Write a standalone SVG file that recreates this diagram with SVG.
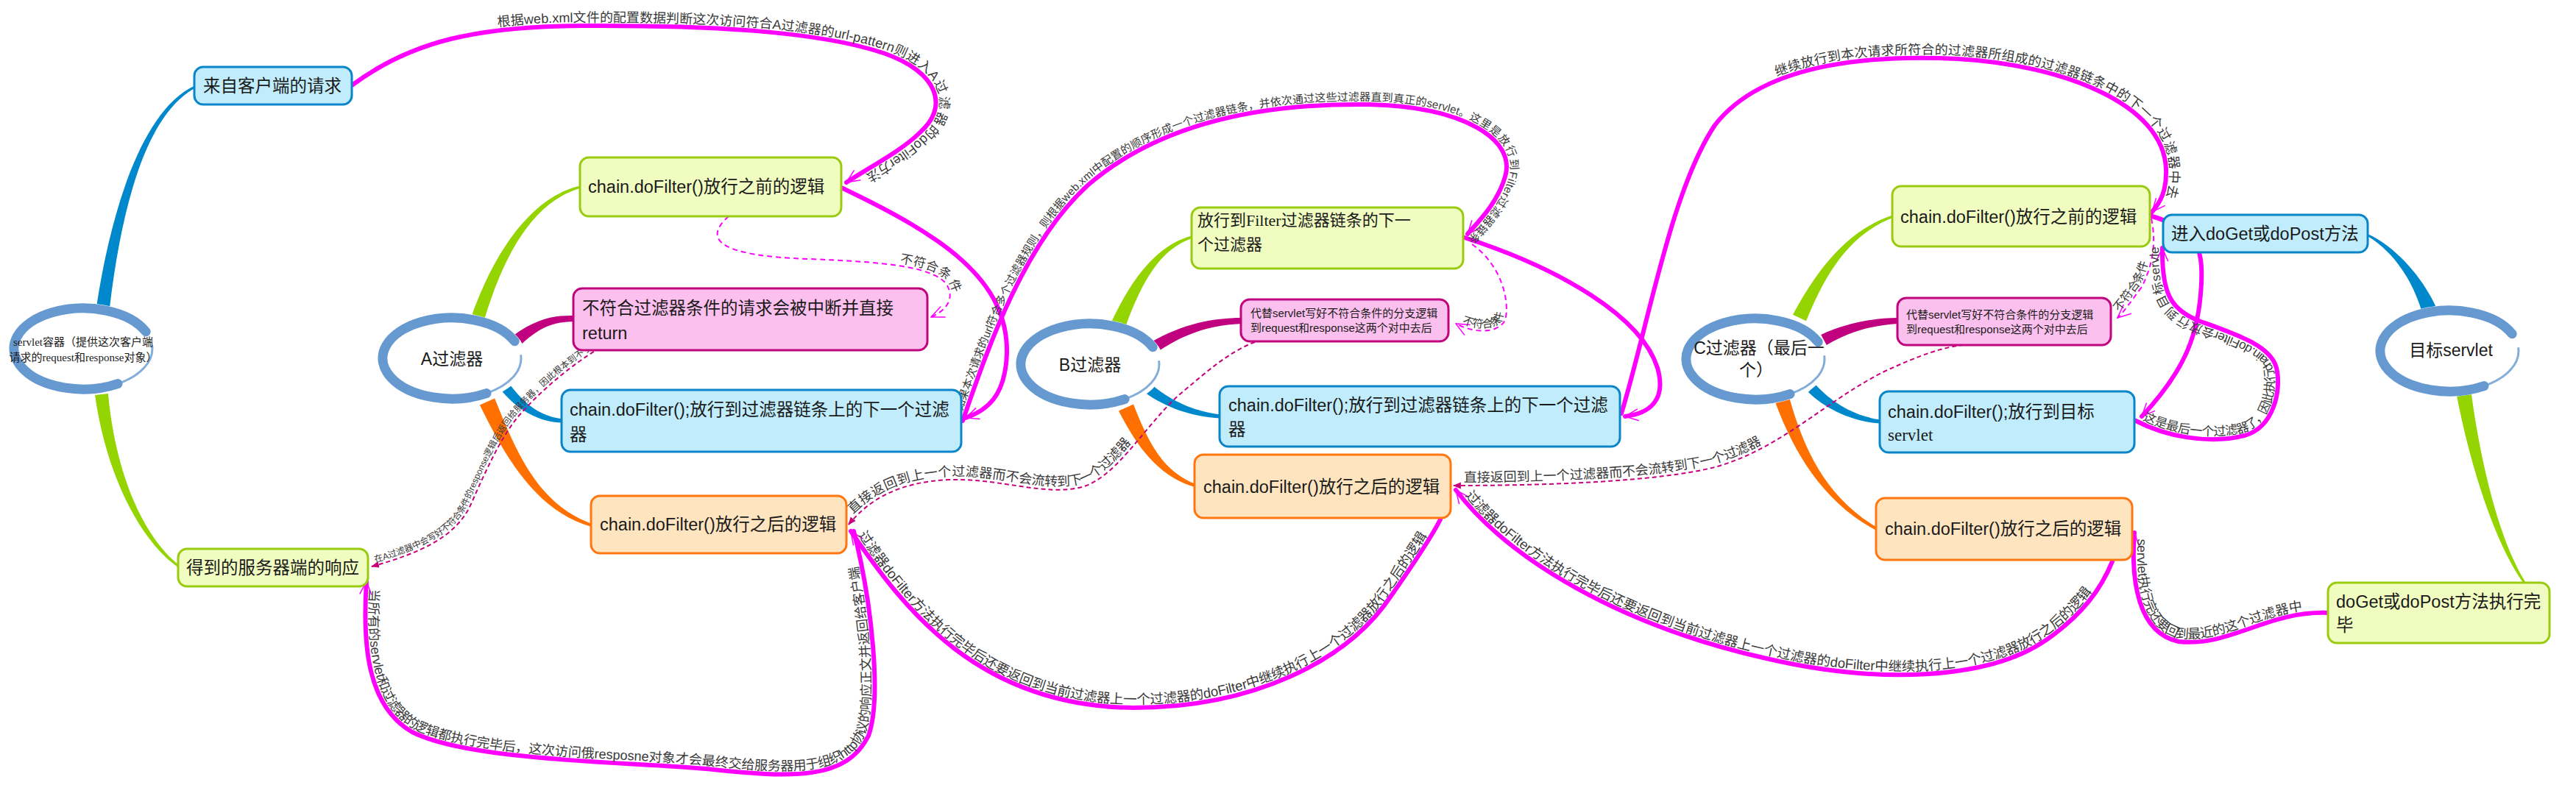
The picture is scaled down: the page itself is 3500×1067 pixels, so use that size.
<svg xmlns="http://www.w3.org/2000/svg" xmlns:xlink="http://www.w3.org/1999/xlink" width="3500" height="1067" viewBox="0 0 3500 1067">
<style>
.lbl{font-family:'Liberation Sans','Noto Sans CJK SC',sans-serif;fill:#3a3a3a;}
.nt{font-family:'Liberation Sans','Noto Sans CJK SC',sans-serif;fill:#1a1a1a;}
.ns{font-family:'Liberation Serif','Noto Sans CJK SC',serif;fill:#1a1a1a;}
.mg{fill:none;stroke:#ff00ff;stroke-width:6;stroke-linecap:round;}
.dl{fill:none;stroke:#ff00ff;stroke-width:2;stroke-dasharray:7 5;}
.dd{fill:none;stroke:#c8007c;stroke-width:2;stroke-dasharray:6 4;}
.bl{fill:#c0ecfc;stroke:#0a86c8;stroke-width:3;}
.yg{fill:#f0fcc0;stroke:#99cc11;stroke-width:3;}
.pk{fill:#fcc0ee;stroke:#c0057f;stroke-width:3;}
.or{fill:#ffe4c0;stroke:#ff7711;stroke-width:3;}
.bB{fill:#0088cc;}
.bG{fill:#94d400;}
.bM{fill:#c0007f;}
.bO{fill:#ff7000;}
</style>
<defs>
<marker id="arr" viewBox="0 0 20 20" refX="19" refY="10" markerWidth="20" markerHeight="20" markerUnits="userSpaceOnUse" orient="auto-start-reverse"><path d="M1,2 L19,10 L1,18" fill="none" stroke="#ff00ff" stroke-width="1.5"/></marker>
<marker id="arrf" viewBox="0 0 10 10" refX="9" refY="5" markerWidth="11" markerHeight="11" markerUnits="userSpaceOnUse" orient="auto-start-reverse"><path d="M0,1 L10,5 L0,9 Z" fill="#c8007c"/></marker>
<g id="ring">
<ellipse rx="101" ry="62" fill="#ffffff"/>
<path d="M85.2,-23.2 A94,55 0 1 0 47,47.6" fill="none" stroke="#6699d0" stroke-width="13" stroke-linecap="round"/>
<path d="M47,47.6 A94,55 0 0 0 93.6,-4.8" fill="none" stroke="#6699d0" stroke-width="3" stroke-opacity="0.8"/>
</g>
<path id="pd2" d="M1978,440 C2000,452 2035,455 2045,435 C2052,410 2040,360 2000,332"/>
<path id="pd3" d="M2877,432 C2885,425 2895,410 2910,390 C2925,360 2930,330 2923,297"/>
</defs>

<g id="connectors">
<g id="branches">
<path class="bB" d="M148.9,419.2 C166.4,270.9 201.5,153.1 265.7,119.3 L264.3,116.7 C198.5,146.9 153.6,269.1 131.1,416.8 Z"/>
<path class="bG" d="M129.1,537 C143.5,640.7 187.9,732.8 242.1,771.2 L243.9,768.8 C192.1,727.2 156.5,639.3 146.9,535 Z"/>
<path class="bG" d="M658.5,432.8 C686.2,342.1 725.8,273.4 789.4,255.5 L788.6,252.5 C724.2,266.6 673.8,337.9 641.5,427.2 Z"/>
<path class="bM" d="M708.1,468.2 C733.8,444.7 750,438 780,437 L780,429 C750,428 726.2,435.3 697.9,455.8 Z"/>
<path class="bB" d="M682.6,532.4 C705.3,558.8 734.7,574 763.8,574.5 L764.2,569.5 C735.3,566 714.7,551.2 693.4,523.6 Z"/>
<path class="bO" d="M651.9,550.5 C687.7,623.3 728.6,694.3 803.4,715.9 L804.6,712.1 C731.4,685.7 702.3,616.7 672.1,541.5 Z"/>
<path class="bG" d="M1529.2,443.9 C1551.5,382.7 1576,338.4 1620.4,323.4 L1619.6,320.6 C1574,331.6 1538.5,377.3 1510.8,436.2 Z"/>
<path class="bM" d="M1572.3,478.7 C1613.2,450.1 1650.1,442 1687.1,440 L1686.9,432 C1649.9,432 1606.8,439.9 1563.7,465.3 Z"/>
<path class="bB" d="M1555.6,533.5 C1581.3,552.7 1619.7,567 1657.8,568.5 L1658.2,563.5 C1620.3,559 1588.8,543.3 1564.4,522.5 Z"/>
<path class="bO" d="M1520,558.5 C1547.7,613.3 1578.5,649.3 1623.4,661.9 L1624.6,658.1 C1581.5,640.7 1562.3,606.7 1540,549.5 Z"/>
<path class="bG" d="M2454,436.3 C2476.3,383 2506.2,321.3 2572.5,295.4 L2571.5,292.6 C2503.8,314.7 2463.7,377 2436,427.7 Z"/>
<path class="bM" d="M2481.8,469.1 C2512.8,450.3 2545.1,442 2579.1,440 L2578.9,432 C2544.9,432 2507.2,439.7 2474.2,454.9 Z"/>
<path class="bB" d="M2456.9,532.9 C2480.7,556.2 2519.7,574 2554.8,575.5 L2555.2,570.5 C2520.3,566 2489.3,547.8 2467.1,523.1 Z"/>
<path class="bO" d="M2412.5,548.1 C2438.4,617.2 2478.1,683.5 2549,720.7 L2551,717.3 C2481.9,676.5 2451.7,612.8 2431.5,541.9 Z"/>
<path class="bB" d="M3309.4,416.5 C3291.6,377.5 3256.7,336.9 3218.7,318.7 L3217.3,321.3 C3253.3,343.1 3278.4,382.5 3290.6,423.5 Z"/>
<path class="bG" d="M3338.1,538.6 C3358.1,641.1 3392.1,742 3428.8,792.8 L3431.2,791.2 C3397.9,738 3371.9,638.9 3357.9,535.4 Z"/>
</g>
<g id="links">
<path id="p1" class="mg" marker-end="url(#arr)" d="M478,116 C560,55 650,36 790,35 C960,34 1110,42 1200,72 C1275,98 1290,145 1250,180 C1225,205 1180,228 1150,248"/>
<path id="p2" class="mg" marker-end="url(#arr)" d="M1143,255 C1280,320 1370,380 1368,480 C1366,540 1340,558 1312,568"/>
<path id="p3" class="mg" marker-end="url(#arr)" d="M1308,572 C1340,480 1390,330 1480,250 C1580,165 1720,140 1860,142 C1990,145 2060,190 2045,240 C2035,275 2010,300 1994,318"/>
<path id="p4" class="mg" marker-end="url(#arr)" d="M1990,323 C2120,365 2230,430 2252,500 C2265,545 2240,562 2208,566"/>
<path id="p5" class="mg" marker-end="url(#arr)" d="M2203,562 C2240,440 2270,260 2330,170 C2400,80 2560,75 2660,80 C2800,88 2940,140 2943,230 C2944,260 2935,275 2924,288"/>
<path id="p6" class="mg" marker-start="url(#arr)" d="M498,790 C492,880 500,960 560,995 C640,1035 850,1035 960,1045 C1080,1058 1150,1060 1180,1000 C1198,950 1185,820 1160,722"/>
<path id="p7" class="mg" marker-start="url(#arr)" d="M1156,722 C1230,830 1330,960 1540,962 C1700,962 1830,900 1890,810 C1925,760 1945,730 1957,706"/>
<path id="p8" class="mg" marker-start="url(#arr)" d="M1978,666 C2050,760 2200,850 2400,895 C2550,930 2700,925 2780,870 C2830,835 2855,800 2870,763"/>
<path id="p9" class="mg" marker-start="url(#arr)" d="M2900,724 C2895,790 2905,860 2960,872 C3030,880 3080,830 3163,833"/>
<path id="p10" class="mg" marker-end="url(#arr)" d="M2902,572 C2940,592 3000,605 3050,592 C3090,580 3100,530 3093,500 C3085,470 3040,455 2990,437 C2950,422 2937,400 2938,337"/>
<path id="p11" class="mg" marker-end="url(#arr)" d="M2921,293 C2985,312 2993,335 2991,385 C2988,450 2972,500 2910,566"/>
<path id="d1" class="dl" marker-end="url(#arr)" d="M990,294 C955,325 975,348 1100,352 C1200,356 1265,362 1285,385 C1297,402 1290,420 1265,431"/>
<path class="dl" marker-end="url(#arr)" d="M2000,332 C2040,360 2052,410 2045,435 C2035,455 2000,452 1978,440"/>
<path class="dl" marker-end="url(#arr)" d="M2923,297 C2930,330 2925,360 2910,390 C2895,410 2885,425 2877,432"/>
<path id="d4" class="dd" marker-start="url(#arrf)" d="M505,770 C570,752 620,730 640,685 C660,640 680,595 705,565 C740,525 780,495 808,477"/>
<path id="d5" class="dd" marker-start="url(#arrf)" d="M1153,713 C1180,680 1220,655 1290,652 C1360,650 1420,675 1470,662 C1520,648 1560,570 1610,530 C1640,505 1670,478 1705,465"/>
<path id="d6" class="dd" marker-start="url(#arrf)" d="M1975,660 C2100,660 2250,655 2330,635 C2420,610 2480,545 2560,505 C2610,482 2640,472 2667,469"/>
</g>
<g id="link-labels">
<text class="lbl" font-size="18" dy="-5"><textPath href="#p1" startOffset="215">根据web.xml文件的配置数据判断这次访问符合A过滤器的url-pattern则进入A过滤器的doFilter方法</textPath></text>
<text class="lbl" font-size="15" dy="-5"><textPath href="#p3" startOffset="12">如果本次请求的url符合多个过滤器规则，则根据web.xml中配置的顺序形成一个过滤器链条，并依次通过这些过滤器直到真正的servlet。这里是放行到Filter过滤器链条的下一个过滤器</textPath></text>
<text class="lbl" font-size="18" dy="-5"><textPath href="#p5" startOffset="520">继续放行到本次请求所符合的过滤器所组成的过滤器链条中的下一个过滤器中去</textPath></text>
<text class="lbl" font-size="18" dy="-5"><textPath href="#p6" startOffset="10">当所有的servlet和过滤器的逻辑都执行完毕后，这次访问俄resposne对象才会最终交给服务器用于组织http协议的响应正文并返回给客户端</textPath></text>
<text class="lbl" font-size="18.5" dy="-5"><textPath href="#p7" startOffset="10">过滤器doFilter方法执行完毕后还要返回到当前过滤器上一个过滤器的doFilter中继续执行上一个过滤器放行之后的逻辑</textPath></text>
<text class="lbl" font-size="18.5" dy="-5"><textPath href="#p8" startOffset="14">过滤器doFilter方法执行完毕后还要返回到当前过滤器上一个过滤器的doFilter中继续执行上一个过滤器放行之后的逻辑</textPath></text>
<text class="lbl" font-size="18" dy="-5"><textPath href="#p9" startOffset="8">servlet执行完还要回到最近的这个过滤器中</textPath></text>
<text class="lbl" font-size="17" dy="-5"><textPath href="#p10" startOffset="8">这是最后一个过滤器了，因此执行chain.doFilter会放行到目标servlet</textPath></text>
<text class="lbl" font-size="17" dy="-4"><textPath href="#d1" startOffset="288">不符合条件</textPath></text>
<text class="lbl" font-size="15" dy="-4"><textPath href="#pd2" startOffset="8">不符合条件</textPath></text>
<text class="lbl" font-size="16" dy="-4"><textPath href="#pd3" startOffset="8">不符合条件</textPath></text>
<text class="lbl" font-size="12" dy="-4"><textPath href="#d4" startOffset="6">在A过滤器中会写好不符合条件的response逻辑后返回给服务器，因此根本到不了目标servlet</textPath></text>
<text class="lbl" font-size="18" dy="-5"><textPath href="#d5" startOffset="14">直接返回到上一个过滤器而不会流转到下一个过滤器</textPath></text>
<text class="lbl" font-size="18" dy="-5"><textPath href="#d6" startOffset="14">直接返回到上一个过滤器而不会流转到下一个过滤器</textPath></text>
</g>
</g>

<g id="nodes">
<g id="n-container"><use href="#ring" x="113" y="474"/>
<text class="ns" font-size="15" text-anchor="middle" x="113" y="470">servlet容器（提供这次客户端</text>
<text class="ns" font-size="15" text-anchor="middle" x="113" y="491">请求的request和response对象）</text></g>
<g id="n-request"><rect class="bl" x="264" y="91" width="214" height="51" rx="12"/><text class="nt" font-size="23.5" x="276" y="125">来自客户端的请求</text></g>
<g id="n-response"><rect class="yg" x="242" y="746" width="258" height="51" rx="12"/><text class="nt" font-size="23.5" x="253" y="780">得到的服务器端的响应</text></g>

<g id="n-filterA"><use href="#ring" x="614" y="487"/><text class="nt" font-size="23" text-anchor="middle" x="614" y="496">A过滤器</text></g>
<g id="n-A-before"><rect class="yg" x="788" y="214" width="355" height="80" rx="12"/><text class="nt" font-size="23.5" x="799" y="262">chain.doFilter()放行之前的逻辑</text></g>
<g id="n-A-reject"><rect class="pk" x="779" y="392" width="481" height="84" rx="12"/><text class="nt" font-size="23.5" x="791" y="427">不符合过滤器条件的请求会被中断并直接</text><text class="nt" font-size="23.5" x="791" y="461">return</text></g>
<g id="n-A-next"><rect class="bl" x="763" y="530" width="543" height="84" rx="12"/><text class="nt" font-size="23.5" x="774" y="565">chain.doFilter();放行到过滤器链条上的下一个过滤</text><text class="nt" font-size="23.5" x="774" y="599">器</text></g>
<g id="n-A-after"><rect class="or" x="803" y="674" width="347" height="78" rx="12"/><text class="nt" font-size="23.5" x="815" y="721">chain.doFilter()放行之后的逻辑</text></g>

<g id="n-filterB"><use href="#ring" x="1481" y="495"/><text class="nt" font-size="23" text-anchor="middle" x="1481" y="504">B过滤器</text></g>
<g id="n-B-before"><rect class="yg" x="1619" y="282" width="369" height="83" rx="12"/><text class="ns" font-size="22" x="1627" y="307">放行到Filter过滤器链条的下一</text><text class="ns" font-size="22" x="1627" y="340">个过滤器</text></g>
<g id="n-B-reject"><rect class="pk" x="1686" y="407" width="282" height="57" rx="12"/><text class="nt" font-size="15" x="1699" y="431">代替servlet写好不符合条件的分支逻辑</text><text class="nt" font-size="15" x="1699" y="451">到request和response这两个对中去后</text></g>
<g id="n-B-next"><rect class="bl" x="1657" y="525" width="544" height="82" rx="12"/><text class="nt" font-size="23.5" x="1669" y="559">chain.doFilter();放行到过滤器链条上的下一个过滤</text><text class="nt" font-size="23.5" x="1669" y="592">器</text></g>
<g id="n-B-after"><rect class="or" x="1623" y="618" width="348" height="86" rx="12"/><text class="nt" font-size="23.5" x="1635" y="670">chain.doFilter()放行之后的逻辑</text></g>

<g id="n-filterC"><use href="#ring" x="2385" y="488"/><text class="nt" font-size="23" text-anchor="middle" x="2390" y="481">C过滤器（最后一</text><text class="nt" font-size="23" text-anchor="middle" x="2386" y="511">个）</text></g>
<g id="n-C-before"><rect class="yg" x="2571" y="253" width="350" height="82" rx="12"/><text class="nt" font-size="23.5" x="2582" y="303">chain.doFilter()放行之前的逻辑</text></g>
<g id="n-C-reject"><rect class="pk" x="2578" y="405" width="290" height="64" rx="12"/><text class="nt" font-size="15" x="2590" y="433">代替servlet写好不符合条件的分支逻辑</text><text class="nt" font-size="15" x="2590" y="453">到request和response这两个对中去后</text></g>
<g id="n-C-next"><rect class="bl" x="2554" y="532" width="346" height="83" rx="12"/><text class="nt" font-size="23.5" x="2565" y="568">chain.doFilter();放行到目标</text><text class="ns" font-size="23" x="2565" y="599">servlet</text></g>
<g id="n-C-after"><rect class="or" x="2549" y="677" width="348" height="84" rx="12"/><text class="nt" font-size="23.5" x="2561" y="727">chain.doFilter()放行之后的逻辑</text></g>

<g id="n-doget"><rect class="bl" x="2939" y="292" width="278" height="51" rx="12"/><text class="nt" font-size="23.5" x="2950" y="326">进入doGet或doPost方法</text></g>
<g id="n-servlet"><use href="#ring" x="3328" y="477"/><text class="nt" font-size="23" text-anchor="middle" x="3330" y="484">目标servlet</text></g>
<g id="n-done"><rect class="yg" x="3163" y="792" width="301" height="82" rx="12"/><text class="nt" font-size="23.5" x="3174" y="826">doGet或doPost方法执行完</text><text class="nt" font-size="23.5" x="3174" y="858">毕</text></g>
</g>
</svg>
